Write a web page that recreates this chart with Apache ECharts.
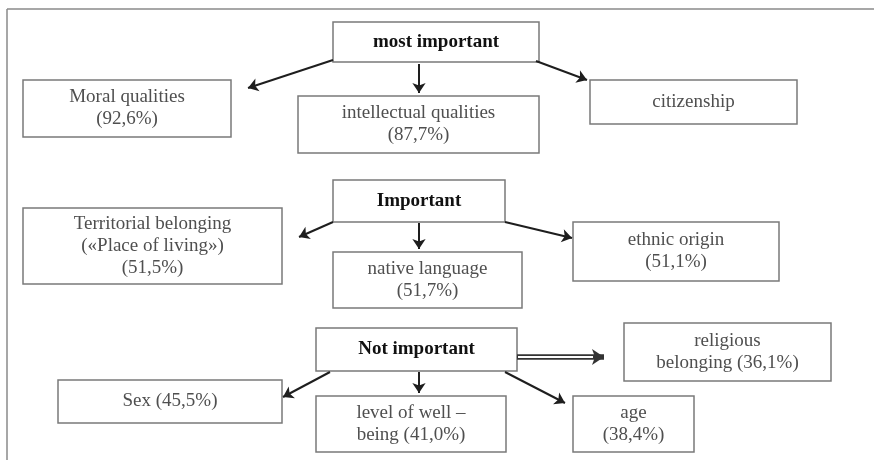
<!DOCTYPE html>
<html>
<head>
<meta charset="utf-8">
<script src="https://cdn.jsdelivr.net/npm/echarts@6/dist/echarts.min.js"></script>
<style>
  html, body { margin: 0; padding: 0; background: #fff; }
  #chart { width: 874px; height: 460px; }
</style>
</head>
<body>
<div id="chart"></div>
<script>
// importance levels (bold header boxes)
const levels = ['most important', 'Important', 'Not important'];

// factors and the share of respondents (%), null = no value shown
const factors = [
  'Moral qualities', 'intellectual qualities', 'citizenship',
  'Territorial belonging\n(«Place of living»)', 'native language', 'ethnic origin',
  'Sex', 'level of well –\nbeing', 'age', 'religious\nbelonging'
];
const shares = [92.6, 87.7, null, 51.5, 51.7, 51.1, 45.5, 41.0, 38.4, 36.1];
const factorLevel = [0, 0, 0, 1, 1, 1, 2, 2, 2, 2];

// ---- layout (pixel grid of the diagram) ----
const levelBoxes = [
  [333, 22, 539, 62],
  [333, 180, 505, 222],
  [316, 328, 517, 371]
];
const factorBoxes = [
  [23, 80, 231, 137], [298, 96, 539, 153], [590, 80, 797, 124],
  [23, 208, 282, 284], [333, 252, 522, 308], [573, 222, 779, 281],
  [58, 380, 282, 423], [316, 396, 506, 452], [573, 396, 694, 452], [624, 323, 831, 381]
];
// break between name and share: new line or same line
const shareSep = ['\n', '\n', '', '\n', '\n', '\n', ' ', ' ', '\n', ' '];
// arrow from level box to each factor
const arrowPaths = [
  [[333, 60], [248, 88]], [[419, 64], [419, 93]], [[536, 61], [587, 80]],
  [[333, 222], [299, 237]], [[419, 223], [419, 249]], [[505, 222], [572, 238]],
  [[330, 372], [283, 397]], [[419, 372], [419, 393]], [[505, 372], [565, 403]], [[517, 357], [604, 357]]
];
const doubleArrow = [false, false, false, false, false, false, false, false, false, true];

function fmtShare(v) {
  return '(' + v.toFixed(1).replace('.', ',') + '%)';
}

const boxData = [];
levels.forEach(function (name, i) {
  boxData.push(levelBoxes[i].concat([name, 1]));
});
factors.forEach(function (name, i) {
  const label = shares[i] == null ? name : name + shareSep[i] + fmtShare(shares[i]);
  boxData.push(factorBoxes[i].concat([label, 0]));
});

const singleArrows = [];
const dblArrows = [];
arrowPaths.forEach(function (p, i) {
  (doubleArrow[i] ? dblArrows : singleArrows).push({ coords: p, level: factorLevel[i] });
});

const chart = echarts.init(document.getElementById('chart'));

const option = {
  backgroundColor: '#fff',
  animation: false,
  grid: { left: 0, right: 0, top: 0, bottom: 0 },
  xAxis: { type: 'value', min: 0, max: 874, show: false },
  yAxis: { type: 'value', min: 0, max: 460, inverse: true, show: false },
  graphic: [
    { type: 'line', shape: { x1: 7, y1: 9, x2: 874, y2: 9 }, style: { stroke: '#8a8a8a', lineWidth: 1.5 } },
    { type: 'line', shape: { x1: 7, y1: 9, x2: 7, y2: 460 }, style: { stroke: '#8a8a8a', lineWidth: 1.5 } }
  ],
  series: [
    {
      type: 'custom',
      coordinateSystem: 'cartesian2d',
      data: boxData,
      renderItem: function (params, api) {
        const p0 = api.coord([api.value(0), api.value(1)]);
        const p1 = api.coord([api.value(2), api.value(3)]);
        const bold = api.value(5) === 1;
        return {
          type: 'group',
          children: [
            {
              type: 'rect',
              shape: { x: p0[0], y: p0[1], width: p1[0] - p0[0], height: p1[1] - p0[1] },
              style: { fill: '#fff', stroke: '#7a7a7a', lineWidth: 1.5 }
            },
            {
              type: 'text',
              style: {
                text: boxData[params.dataIndex][4],
                x: (p0[0] + p1[0]) / 2,
                y: (p0[1] + p1[1]) / 2,
                align: 'center',
                verticalAlign: 'middle',
                fontFamily: '"Liberation Serif", serif',
                fontSize: 19,
                fontWeight: bold ? 'bold' : 'normal',
                lineHeight: 22,
                fill: bold ? '#111' : '#4f4f4f'
              }
            }
          ]
        };
      }
    },
    {
      type: 'lines',
      coordinateSystem: 'cartesian2d',
      symbol: ['none', 'arrow'],
      symbolSize: [0, 10],
      lineStyle: { color: '#1e1e1e', width: 2, opacity: 1 },
      data: singleArrows
    },
    {
      type: 'lines',
      coordinateSystem: 'cartesian2d',
      symbol: ['none', 'arrow'],
      symbolSize: [0, 12],
      lineStyle: { color: '#333', width: 5.5, opacity: 1 },
      data: dblArrows
    },
    {
      type: 'lines',
      coordinateSystem: 'cartesian2d',
      symbol: 'none',
      lineStyle: { color: '#fff', width: 2, opacity: 1 },
      data: dblArrows.map(function (d) {
        return { coords: [[d.coords[0][0] + 1, d.coords[0][1]], [d.coords[1][0] - 11, d.coords[1][1]]] };
      })
    }
  ]
};

chart.setOption(option);
</script>
</body>
</html>
